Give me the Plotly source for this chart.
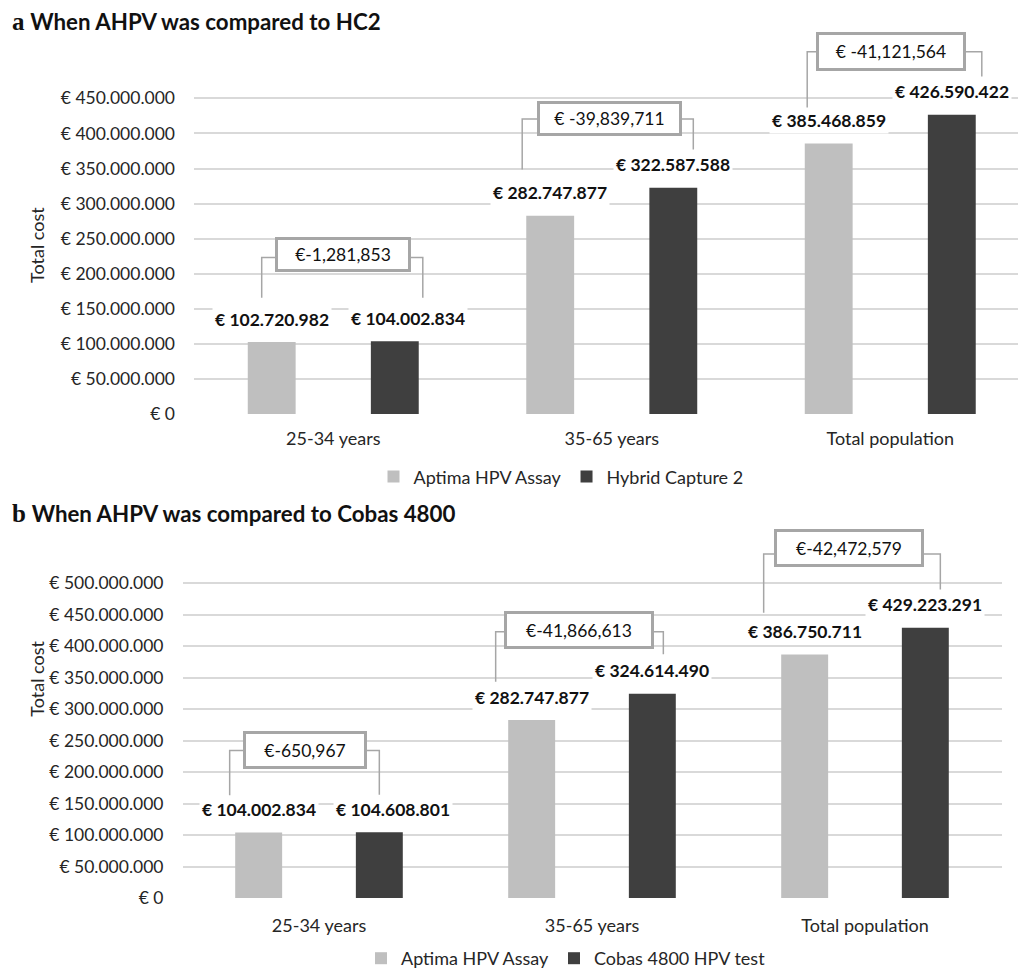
import plotly.graph_objects as go

# ---------------- data ----------------
categories = ["25-34 years", "35-65 years", "Total population"]

a_names = ["Aptima HPV Assay", "Hybrid Capture 2"]
a_aptima = [102720982, 282747877, 385468859]
a_hc2 = [104002834, 322587588, 426590422]
a_diff_labels = ["€-1,281,853", "€ -39,839,711", "€ -41,121,564"]
a_tickvals = [0, 50e6, 100e6, 150e6, 200e6, 250e6, 300e6, 350e6, 400e6, 450e6]
a_ticktext = ["€ 0", "€ 50.000.000", "€ 100.000.000", "€ 150.000.000", "€ 200.000.000",
              "€ 250.000.000", "€ 300.000.000", "€ 350.000.000", "€ 400.000.000", "€ 450.000.000"]

b_names = ["Aptima HPV Assay", "Cobas 4800 HPV test"]
b_aptima = [104002834, 282747877, 386750711]
b_cobas = [104608801, 324614490, 429223291]
b_diff_labels = ["€-650,967", "€-41,866,613", "€-42,472,579"]
b_tickvals = [0, 50e6, 100e6, 150e6, 200e6, 250e6, 300e6, 350e6, 400e6, 450e6, 500e6]
b_ticktext = ["€ 0", "€ 50.000.000", "€ 100.000.000", "€ 150.000.000", "€ 200.000.000",
              "€ 250.000.000", "€ 300.000.000", "€ 350.000.000", "€ 400.000.000",
              "€ 450.000.000", "€ 500.000.000"]

# ---------------- style ----------------
W, H = 1018, 977
LIGHT = "#bfbfbf"
DARK = "#3f3f3f"
GRID = "#d9d9d9"
TXT = "#262626"
FONT = "Lato"
BARGAP = 0.116
BARGROUPGAP = 0.611
OFF = (1 - BARGAP) / 4  # group offset of each bar from category centre

panels = {
    "a": dict(left=194.0, cat_w=278.5, zero=421.0, ppv=35.67 / 50e6, top=30.0,
              xaxis="x", yaxis="y", legend="legend",
              dxL=[-10, -28, -21.5], dxR=[28, 20, 30],
              gapL=[45, 47, 36], gapR=[44, 39, 39],
              box_dx=[10, -2.5, 1], box_rise=[88, 70, 64], lvl_rise=[85, 70, 64],
              box_size=[(133, 32), (142, 32), (147, 36)],
              dark_label_xshift=[13, 0, 0]),
    "b": dict(left=182.5, cat_w=273.0, zero=913.0, ppv=32.0 / 50e6, top=535.0,
              xaxis="x2", yaxis="y2", legend="legend2",
              dxL=[-29, -36, -41], dxR=[0, 11, 15],
              gapL=[38, 39, 42.5], gapR=[38, 40, 39],
              box_dx=[-14.5, -13.5, -16.5], box_rise=[84, 65, 81], lvl_rise=[83, 63, 75],
              box_size=[(121, 35), (147, 35), (147, 35)],
              dark_label_xshift=[14, 0, 0]),
}


def euro(v):
    return "€ " + f"{int(v):,}".replace(",", ".")


fig = go.Figure()
shapes = []
annotations = []

datasets = {
    "a": (a_names, a_aptima, a_hc2, a_diff_labels),
    "b": (b_names, b_aptima, b_cobas, b_diff_labels),
}

for key, (names, light_vals, dark_vals, diffs) in datasets.items():
    p = panels[key]
    xs = list(range(len(categories)))
    for name, vals, col in [(names[0], light_vals, LIGHT), (names[1], dark_vals, DARK)]:
        fig.add_trace(go.Bar(x=xs, y=vals, name=name, marker_color=col, marker_line_width=0,
                             xaxis=p["xaxis"], yaxis=p["yaxis"], legend=p["legend"],
                             hoverinfo="skip"))
    xr = p["xaxis"]
    yr = p["yaxis"]
    for i in xs:
        lv, dv = light_vals[i], dark_vals[i]
        # data labels
        for x, v, xs_ in [(i - OFF, lv, 0), (i + OFF, dv, p["dark_label_xshift"][i])]:
            annotations.append(dict(x=x, y=v, xref=xr, yref=yr, text="<b>" + euro(v) + "</b>",
                                    showarrow=False, yanchor="middle", yshift=23, xshift=xs_,
                                    bgcolor="white", borderpad=2,
                                    font=dict(family=FONT, size=17.5, color="#111111")))
        # bracket
        top_val = max(lv, dv)
        lvl = top_val + p["lvl_rise"][i] / p["ppv"]
        xl = i - OFF + p["dxL"][i] / p["cat_w"]
        xrr = i + OFF + p["dxR"][i] / p["cat_w"]
        yl = lv + p["gapL"][i] / p["ppv"]
        yrr = dv + p["gapR"][i] / p["ppv"]
        shapes.append(dict(type="path", xref=xr, yref=yr,
                           path=f"M {xl} {yl} L {xl} {lvl} L {xrr} {lvl} L {xrr} {yrr}",
                           line=dict(color="#a6a6a6", width=1.5), layer="above"))
        bw, bh = p["box_size"][i]
        annotations.append(dict(x=i + p["box_dx"][i] / p["cat_w"],
                                y=top_val + p["box_rise"][i] / p["ppv"],
                                xref=xr, yref=yr, text=diffs[i], showarrow=False,
                                xanchor="center", yanchor="middle",
                                width=bw - 3, height=bh - 3, borderpad=0,
                                bordercolor="#a6a6a6", borderwidth=3, bgcolor="white",
                                font=dict(family=FONT, size=17.5, color="#111111")))

pa, pb = panels["a"], panels["b"]

# small gap in panel b baseline under the middle group (as in the source image)
shapes.append(dict(type="line", xref="x2", yref="y2", x0=0.5 + (483 - pb["left"] - pb["cat_w"]) / pb["cat_w"] + 0.0,
                   x1=(699 - pb["left"]) / pb["cat_w"] - 0.5, y0=0, y1=0,
                   line=dict(color="white", width=3), layer="between"))


def ydom(p):
    return [1 - p["zero"] / H, 1 - p["top"] / H]


axis_common = dict(showgrid=True, gridcolor=GRID, gridwidth=1.5, zeroline=False,
                   showline=False, ticks="", tickmode="array",
                   tickfont=dict(family=FONT, size=17.5, color=TXT))
x_common = dict(showgrid=False, zeroline=False, showline=False, ticks="",
                tickmode="array", tickvals=[0, 1, 2], ticktext=categories,
                tickfont=dict(family=FONT, size=18, color=TXT))

fig.update_layout(
    width=W, height=H, margin=dict(l=0, r=0, t=0, b=0),
    paper_bgcolor="white", plot_bgcolor="white",
    barmode="group", bargap=BARGAP, bargroupgap=BARGROUPGAP,
    xaxis=dict(domain=[pa["left"] / W, 1.0], anchor="y",
               range=[-0.5, -0.5 + (W - pa["left"]) / pa["cat_w"]],
               ticklabelstandoff=12, **x_common),
    yaxis=dict(domain=ydom(pa), anchor="x",
               range=[0, (pa["zero"] - pa["top"]) / pa["ppv"]],
               tickvals=a_tickvals, ticktext=a_ticktext, ticklabelstandoff=18, **axis_common),
    xaxis2=dict(domain=[pb["left"] / W, (pb["left"] + 3 * pb["cat_w"]) / W], anchor="y2",
                range=[-0.5, 2.5], ticklabelstandoff=15, **x_common),
    yaxis2=dict(domain=ydom(pb), anchor="x2",
                range=[0, (pb["zero"] - pb["top"]) / pb["ppv"]],
                tickvals=b_tickvals, ticktext=b_ticktext, ticklabelstandoff=18, **axis_common),
    legend=dict(orientation="h", x=561 / W, xanchor="center", y=1 - 466 / H, yanchor="top",
                font=dict(family=FONT, size=18, color=TXT), itemwidth=30,
                bgcolor="rgba(0,0,0,0)"),
    legend2=dict(orientation="h", x=566 / W, xanchor="center", y=1 - 956 / H, yanchor="top",
                 font=dict(family=FONT, size=18, color=TXT), itemwidth=30,
                 bgcolor="rgba(0,0,0,0)"),
    showlegend=True,
    shapes=shapes,
)

# titles
title_a = ('<span style="font-family:Liberation Serif;font-size:25px"><b>a</b></span> '
           '<b>When AHPV was compared to HC2</b>')
title_b = ('<span style="font-family:Liberation Serif;font-size:25px"><b>b</b></span> '
           '<b>When AHPV was compared to Cobas 4800</b>')
annotations.append(dict(x=10 / W, y=1 - 22 / H, xref="paper", yref="paper", text=title_a,
                        showarrow=False, xanchor="left", yanchor="middle",
                        font=dict(family=FONT, size=22.3, color="#111111")))
annotations.append(dict(x=10 / W, y=1 - 522 / H, xref="paper", yref="paper", text=title_b,
                        showarrow=False, xanchor="left", yanchor="middle",
                        font=dict(family=FONT, size=22.3, color="#111111")))
# y axis titles
for cy in (249, 690):
    annotations.append(dict(x=37 / W, y=1 - cy / H, xref="paper", yref="paper",
                            text="Total cost", textangle=-90, showarrow=False,
                            xanchor="center", yanchor="middle",
                            font=dict(family=FONT, size=18, color=TXT)))

fig.update_layout(annotations=annotations)
fig.write_html("out.html")
